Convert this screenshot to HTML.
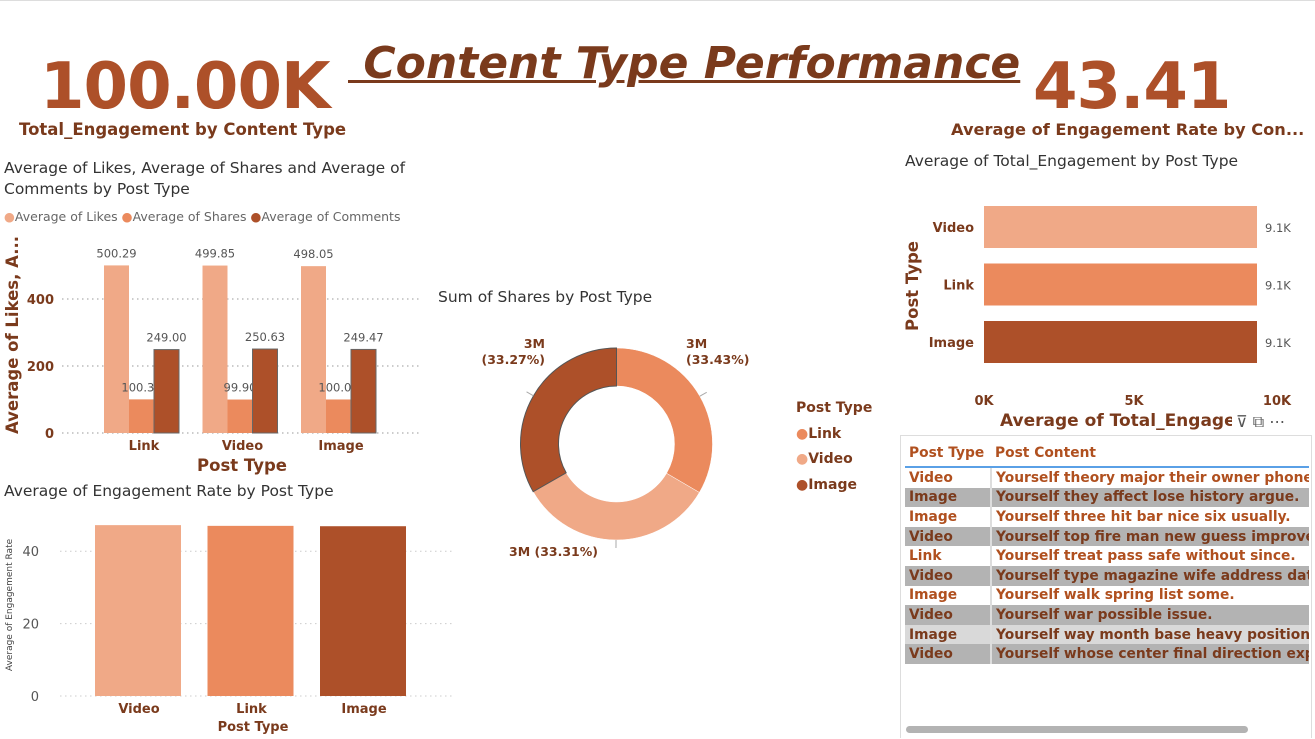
<!DOCTYPE html>
<html><head><meta charset="utf-8"><style>
body{margin:0;width:1315px;height:739px;overflow:hidden;background:#fff;font-family:"DejaVu Sans","Liberation Sans",sans-serif;position:relative}
.a{position:absolute;white-space:nowrap}
svg text{font-family:"DejaVu Sans","Liberation Sans",sans-serif}
table{border-collapse:collapse}
td{padding:0 0 0 4px;height:19.6px;font-weight:bold;font-size:13.8px;color:#B0501F;white-space:nowrap;overflow:hidden}
tr.g td{background:#b3b3b3;color:#7A3A1C}
tr.l td{background:#d9d9d9;color:#7A3A1C}
td.c1{width:82px;border-right:2px solid #ddd}
</style></head><body>
<div class="a" style="left:0;top:0;width:1315px;height:1px;background:#ddd"></div>
<div class="a" style="left:40px;top:50px;font-size:64px;font-weight:bold;color:#AD5029;letter-spacing:-1px">100.00K</div>
<div class="a" style="left:19px;top:120px;font-size:16.5px;font-weight:bold;color:#7A3A1C">Total_Engagement by Content Type</div>
<div class="a" style="left:348px;top:38px;font-size:44px;font-weight:bold;font-style:italic;color:#7A3A1C;text-decoration:underline;text-decoration-thickness:3px">&nbsp;Content Type Performance</div>
<div class="a" style="left:1033px;top:50px;font-size:64px;font-weight:bold;color:#AD5029;letter-spacing:-1px">43.41</div>
<div class="a" style="left:951px;top:120px;font-size:16.2px;font-weight:bold;color:#7A3A1C">Average of Engagement Rate by Con...</div>

<svg class="a" style="left:0;top:0" width="1315" height="739">
<g id="c1"></g>
<g id="c2"></g>
<g id="c3"></g>
<g id="c4"></g>
</svg>

<div class="a" style="left:4px;top:158px;font-size:15.5px;color:#333;line-height:21px">Average of Likes, Average of Shares and Average of<br>Comments by Post Type</div>
<div class="a" style="left:4px;top:209px;font-size:12.5px;color:#666">
<span style="color:#F0A987">●</span>Average of Likes <span style="color:#EB8A5D">●</span>Average of Shares <span style="color:#AD5029">●</span>Average of Comments</div>
<div class="a" style="left:4px;top:482px;font-size:15.5px;color:#333">Average of Engagement Rate by Post Type</div>
<div class="a" style="left:438px;top:288px;font-size:15.5px;color:#333">Sum of Shares by Post Type</div>
<div class="a" style="left:905px;top:152px;font-size:15.5px;color:#333">Average of Total_Engagement by Post Type</div>
<div class="a" style="left:796px;top:396px;font-size:14px;font-weight:bold;color:#7A3A1C;line-height:25.5px">
Post Type<br><span style="color:#EB8A5D">●</span>Link<br><span style="color:#F0A987">●</span>Video<br><span style="color:#AD5029">●</span>Image</div>

<div class="a" style="left:900px;top:435px;width:410px;height:302px;border:1px solid #ddd;border-bottom:none;overflow:hidden"></div>
<div class="a" style="left:1000px;top:411px;font-size:17px;font-weight:bold;color:#7A3A1C;width:232px;overflow:hidden">Average of Total_Engagement</div>
<div class="a" style="left:1236px;top:412px;font-size:16px;color:#555">⊽ ⧉ ⋯</div>
<div class="a" style="left:905px;top:440px;width:404px;overflow:hidden">
<table style="width:404px;table-layout:fixed">
<tr><td class="c1" style="height:26px;border-bottom:2px solid #5aa0e6;border-right:none;color:#B0501F">Post Type</td><td style="height:26px;border-bottom:2px solid #5aa0e6;color:#B0501F;width:318px">Post Content</td></tr>
<tr><td class="c1">Video</td><td>Yourself theory major their owner phone</td></tr>
<tr class="g"><td class="c1">Image</td><td>Yourself they affect lose history argue.</td></tr>
<tr><td class="c1">Image</td><td>Yourself three hit bar nice six usually.</td></tr>
<tr class="g"><td class="c1">Video</td><td>Yourself top fire man new guess improve</td></tr>
<tr><td class="c1">Link</td><td>Yourself treat pass safe without since.</td></tr>
<tr class="g"><td class="c1">Video</td><td>Yourself type magazine wife address dat</td></tr>
<tr><td class="c1">Image</td><td>Yourself walk spring list some.</td></tr>
<tr class="g"><td class="c1">Video</td><td>Yourself war possible issue.</td></tr>
<tr class="l"><td class="c1">Image</td><td>Yourself way month base heavy position</td></tr>
<tr class="g"><td class="c1">Video</td><td>Yourself whose center final direction exp</td></tr>
</table></div>
<div class="a" style="left:906px;top:726px;width:342px;height:7px;border-radius:4px;background:#b3b3b3"></div>

<script>
const NS='http://www.w3.org/2000/svg';
function mk(p,t,a,txt){const e=document.createElementNS(NS,t);for(const k in a)e.setAttribute(k,a[k]);if(txt!=null)e.textContent=txt;p.appendChild(e);return e;}
const C=['#F0A987','#EB8A5D','#AD5029'];
const BR='#7A3A1C';

// Chart 1
const c1Cats=['Link','Video','Image'];
const c1Likes=[500.29,499.85,498.05];
const c1Shares=[100.38,99.90,100.08];
const c1Comments=[249.00,250.63,249.47];
const c1Ticks=[0,200,400];
(function(){
 const g=document.getElementById('c1');
 const y=v=>433-v*0.335, x=i=>104+i*98.5;
 c1Ticks.forEach(t=>{const l=mk(g,'line',{x1:62,x2:420,y1:y(t),y2:y(t),stroke:'#999','stroke-dasharray':'1.5 3.5'});
  const tx=mk(g,'text',{x:54,y:y(t)+5,'text-anchor':'end','font-size':13,'font-weight':'bold',fill:BR},t);});
 const series=[c1Likes,c1Shares,c1Comments];
 c1Cats.forEach((c,i)=>{
  series.forEach((s,j)=>{const v=s[i];const bx=x(i)+j*25;
   const r=mk(g,'rect',{x:bx,y:y(v),width:25,height:y(0)-y(v),fill:C[j],stroke:j==2?'#666':'none','stroke-width':1});
   
   const t=mk(g,'text',{x:bx+12.5,y:y(v)-8,'text-anchor':'middle','font-size':11.5,fill:'#555'},v.toFixed(2));});
  const t=mk(g,'text',{x:x(i)+40,y:450,'text-anchor':'middle','font-size':13,'font-weight':'bold',fill:BR},c);
 });
 let t=mk(g,'text',{x:242,y:471,'text-anchor':'middle','font-size':16.5,'font-weight':'bold',fill:BR},'Post Type');
 t=mk(g,'text',{x:18,y:335,'text-anchor':'middle','font-size':16.5,'font-weight':'bold',fill:BR,transform:'rotate(-90 18 335)'},'Average of Likes, A...');
})();

// Chart 2
const c2Cats=['Video','Link','Image'];
const c2Values=[47.2,47.0,46.9];
const c2Ticks=[0,20,40];
(function(){
 const g=document.getElementById('c2');
 const y=v=>696-v*3.62;
 c2Ticks.forEach(t=>{const l=mk(g,'line',{x1:60,x2:455,y1:y(t),y2:y(t),stroke:'#ccc','stroke-dasharray':'1.5 3.5'});
  const tx=mk(g,'text',{x:39,y:y(t)+5,'text-anchor':'end','font-size':13,fill:'#555'},t);});
 c2Cats.forEach((c,i)=>{const bx=95+i*112.5;
  const r=mk(g,'rect',{x:bx,y:y(c2Values[i]),width:86,height:y(0)-y(c2Values[i]),fill:C[i]});
  const t=mk(g,'text',{x:bx+44,y:713,'text-anchor':'middle','font-size':13,'font-weight':'bold',fill:BR},c);});
 let t=mk(g,'text',{x:253,y:731,'text-anchor':'middle','font-size':13,'font-weight':'bold',fill:BR},'Post Type');
 t=mk(g,'text',{x:12,y:605,'text-anchor':'middle','font-size':9,fill:'#444',transform:'rotate(-90 12 605)'},'Average of Engagement Rate');
})();

// Chart 3 donut
const c3Cats=['Link','Video','Image'];
const c3Values=[33.43,33.31,33.27];
const c3Labels=['3M','3M','3M'];
(function(){
 const g=document.getElementById('c3');
 const cx=616.5,cy=444,R=96,r=58;const tot=c3Values.reduce((a,b)=>a+b,0);
 let a0=0;
 const pt=(a,rad)=>[cx+rad*Math.sin(a),cy-rad*Math.cos(a)];
 c3Values.forEach((v,i)=>{const a1=a0+v/tot*2*Math.PI;const lg=(a1-a0)>Math.PI?1:0;
  const p1=pt(a0,R),p2=pt(a1,R),p3=pt(a1,r),p4=pt(a0,r);
  const p=mk(g,'path',{d:`M${p1}A${R},${R} 0 ${lg} 1 ${p2}L${p3}A${r},${r} 0 ${lg} 0 ${p4}Z`,fill:C[[1,0,2][i]],stroke:i==2?'#555':'#fff','stroke-width':i==2?1:0.5});
  
  const am=(a0+a1)/2;const q=pt(am,R+8);
  mk(g,'polyline',{points:`${pt(am,R)} ${q} `,fill:'none',stroke:'#aaa'});
  const lab=c3Labels[i]+' ('+v.toFixed(2)+'%)';
  let t;
  if(i==0){t=mk(g,'text',{x:686,y:348,'font-size':12.5,'font-weight':'bold',fill:BR});t.innerHTML=`<tspan x="686">${c3Labels[i]}</tspan><tspan x="686" dy="16">(${v.toFixed(2)}%)</tspan>`;}
  else if(i==1){t=mk(g,'text',{x:598,y:556,'text-anchor':'end','font-size':12.5,'font-weight':'bold',fill:BR},lab);}
  else{t=mk(g,'text',{x:545,y:348,'text-anchor':'end','font-size':12.5,'font-weight':'bold',fill:BR});t.innerHTML=`<tspan x="545">${c3Labels[i]}</tspan><tspan x="545" dy="16">(${v.toFixed(2)}%)</tspan>`;}
  
  a0=a1;});
})();

// Chart 4 horizontal bar
const c4Cats=['Video','Link','Image'];
const c4Values=[9.1,9.1,9.1];
const c4Ticks=[0,5,10];
(function(){
 const g=document.getElementById('c4');
 const x=v=>984+v*30;
 c4Cats.forEach((c,i)=>{const by=206+i*57.5;
  const r=mk(g,'rect',{x:x(0),y:by,width:x(c4Values[i])-x(0),height:42,fill:C[i]});
  let t=mk(g,'text',{x:974,y:by+26,'text-anchor':'end','font-size':13,'font-weight':'bold',fill:BR},c);
  t=mk(g,'text',{x:x(c4Values[i])+8,y:by+26,'font-size':11.5,fill:'#555'},c4Values[i]+'K');});
 c4Ticks.forEach(v=>{const t=mk(g,'text',{x:Math.min(x(v),1277),y:405,'text-anchor':'middle','font-size':13,'font-weight':'bold',fill:BR},v+'K');});
 const t=mk(g,'text',{x:918,y:286,'text-anchor':'middle','font-size':16.5,'font-weight':'bold',fill:BR,transform:'rotate(-90 918 286)'},'Post Type');
})();
</script>
</body></html>
